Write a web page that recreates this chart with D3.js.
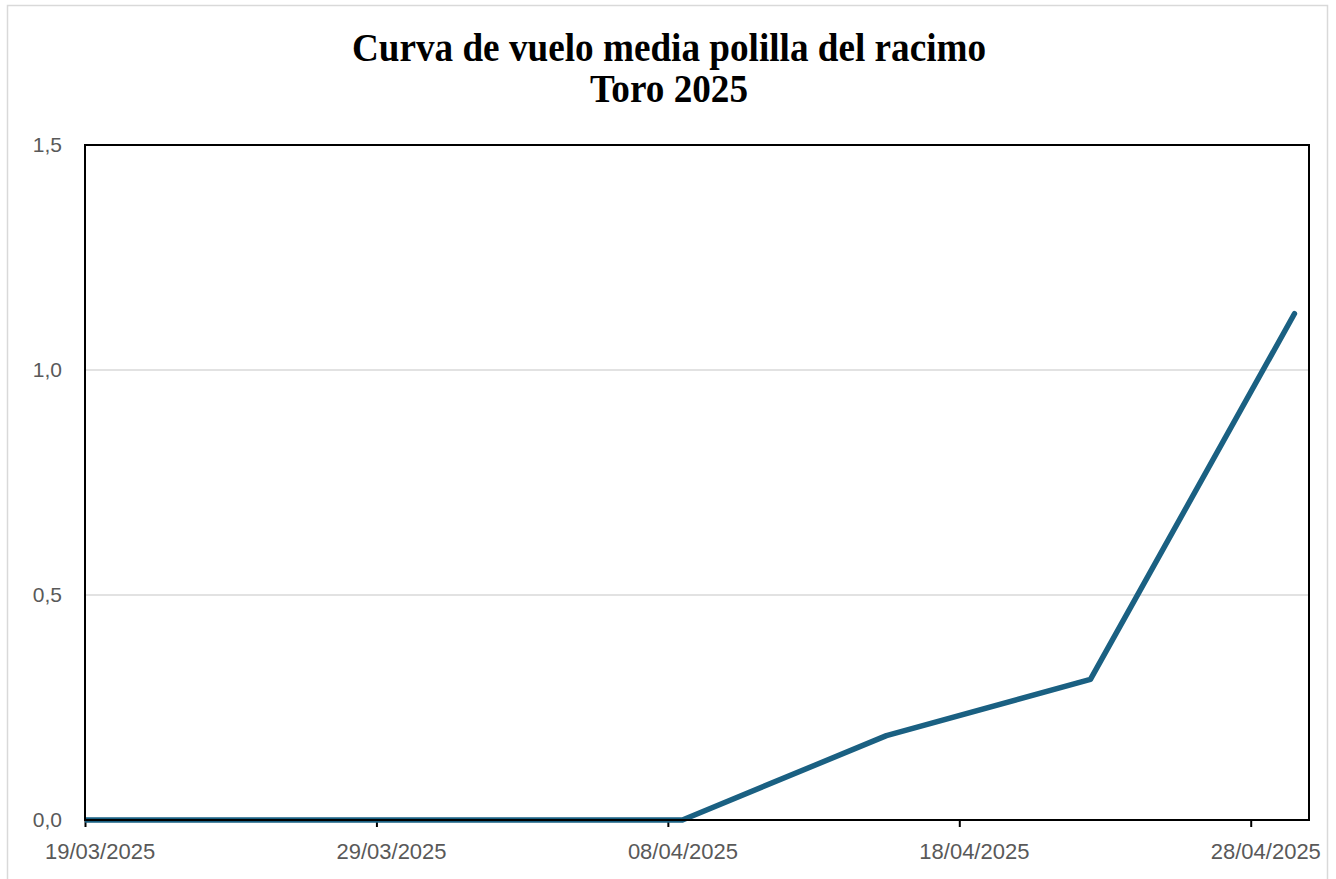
<!DOCTYPE html>
<html>
<head>
<meta charset="utf-8">
<script src="https://cdn.jsdelivr.net/npm/d3@7"></script>
<style>
  body { margin: 0; background: #fff; }
  svg { display: block; }
</style>
</head>
<body>
<svg id="chart" width="1336" height="879"></svg>
<script>
// weekly trap counts (mean per trap)
const dates = ['18/03/2025', '25/03/2025', '01/04/2025', '08/04/2025', '15/04/2025', '22/04/2025', '29/04/2025']
const values = [0, 0, 0, 0, 0.1875, 0.3125, 1.125]
const yTicks = [0, 0.5, 1.0, 1.5]
const xTickLabels = ['19/03/2025', '29/03/2025', '08/04/2025', '18/04/2025', '28/04/2025']
const axisStart = '19/03/2025'
const axisEnd = '30/04/2025'

const parse = d3.timeParse('%d/%m/%Y')
const fmt = d3.timeFormat('%d/%m/%Y')

const W = 1336, H = 879
const margin = { top: 145, right: 27, bottom: 59, left: 85 }
const svg = d3.select('#chart')

// outer chart frame
svg.append('rect')
  .attr('x', 7.5).attr('y', 5.5).attr('width', 1320).attr('height', 890)
  .attr('fill', '#fff').attr('stroke', '#d9d9d9').attr('stroke-width', 1.5)

const x = d3.scaleTime()
  .domain([parse(axisStart), parse(axisEnd)])
  .range([margin.left, W - margin.right])
const y = d3.scaleLinear()
  .domain([0, 1.5])
  .range([H - margin.bottom, margin.top])

// date axis: each day is a slot, marks and labels sit mid-slot
const midDay = d => d3.timeHour.offset(d, 12)
const halfDay = x(midDay(parse(axisStart))) - x(parse(axisStart))

// gridlines
svg.append('g')
  .selectAll('line')
  .data(yTicks.filter(v => v > 0 && v < 1.5))
  .join('line')
  .attr('x1', margin.left).attr('x2', W - margin.right)
  .attr('y1', d => y(d)).attr('y2', d => y(d))
  .attr('stroke', '#d9d9d9').attr('stroke-width', 1.5)

// y labels
const yAxis = svg.append('g')
  .attr('transform', `translate(${margin.left},0)`)
  .call(d3.axisLeft(y).tickValues(yTicks).tickSize(0).tickPadding(23)
    .tickFormat(d => d3.format('.1f')(d).replace('.', ',')))
yAxis.select('.domain').remove()
yAxis.selectAll('text')
  .attr('fill', '#595959').attr('font-size', 21)
  .attr('font-family', '"Liberation Sans", Arial, sans-serif')

// x axis
const xAxis = svg.append('g')
  .attr('transform', `translate(0,${H - margin.bottom})`)
  .call(d3.axisBottom(x).tickValues(xTickLabels.map(parse)).tickSize(7).tickPadding(16)
    .tickFormat(fmt))
xAxis.select('.domain').remove()
xAxis.selectAll('line').attr('stroke', '#000').attr('stroke-width', 2)
xAxis.selectAll('text')
  .attr('x', halfDay)
  .attr('fill', '#595959').attr('font-size', 22)
  .attr('font-family', '"Liberation Sans", Arial, sans-serif')

// clip to plot area
svg.append('clipPath').attr('id', 'plot-clip')
  .append('rect')
  .attr('x', margin.left).attr('y', margin.top - 10)
  .attr('width', W - margin.left - margin.right)
  .attr('height', H - margin.top - margin.bottom + 20)

const line = d3.line()
  .x((d, i) => x(midDay(parse(dates[i]))))
  .y(d => y(d))

svg.append('path')
  .datum(values)
  .attr('clip-path', 'url(#plot-clip)')
  .attr('d', line)
  .attr('fill', 'none')
  .attr('stroke', '#1a6082').attr('stroke-width', 5.5)
  .attr('stroke-linejoin', 'round').attr('stroke-linecap', 'round')

// plot border
svg.append('rect')
  .attr('x', margin.left).attr('y', margin.top)
  .attr('width', W - margin.left - margin.right)
  .attr('height', H - margin.top - margin.bottom)
  .attr('fill', 'none').attr('stroke', '#000').attr('stroke-width', 2)

// title (narrow bold serif, squeezed horizontally)
const title = svg.append('text')
  .attr('text-anchor', 'middle')
  .attr('transform', 'translate(669,0) scale(0.93,1)')
  .attr('font-family', '"Liberation Serif", "Times New Roman", serif')
  .attr('font-weight', 'bold').attr('font-size', 40)
  .attr('fill', '#000')
title.append('tspan').attr('x', 0).attr('y', 61).text('Curva de vuelo media polilla del racimo')
title.append('tspan').attr('x', 0).attr('y', 102).text('Toro 2025')
</script>
</body>
</html>
